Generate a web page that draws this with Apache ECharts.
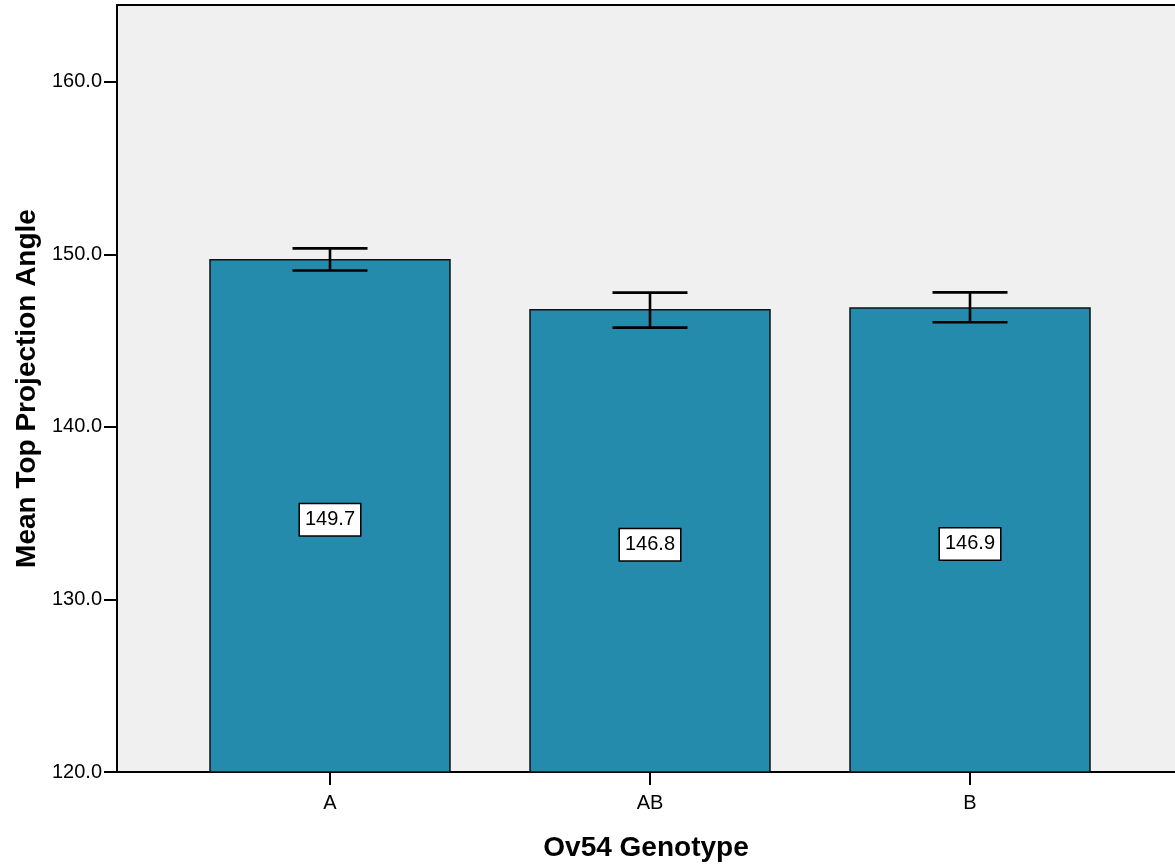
<!DOCTYPE html>
<html>
<head>
<meta charset="utf-8">
<script src="https://cdn.jsdelivr.net/npm/echarts@6/dist/echarts.min.js"></script>
<style>
html,body{margin:0;padding:0;background:#fff;}
#chart{width:1175px;height:867px;}
</style>
</head>
<body>
<div id="chart"></div>
<script>
const categories = ['A', 'AB', 'B'];
const means = [149.7, 146.8, 146.9];
const errLower = [149.07, 145.76, 146.07];
const errUpper = [150.35, 147.79, 147.80];
const yTicks = [120, 130, 140, 150, 160];

const FONT = "'Liberation Sans', Arial, sans-serif";
const chart = echarts.init(document.getElementById('chart'));

const idx = categories.map((c, i) => i);
const X_MIN = -0.6656, X_MAX = 2.6406;

chart.setOption({
  backgroundColor: '#ffffff',
  animation: false,
  grid: {
    left: 117, top: 5, right: 0, bottom: 94,
    show: true, backgroundColor: '#f0f0f0', borderWidth: 0
  },
  xAxis: [{
    type: 'value',
    min: X_MIN, max: X_MAX,
    name: 'Ov54 Genotype',
    nameLocation: 'middle',
    nameGap: 62,
    nameTextStyle: {fontFamily: FONT, fontSize: 28, fontWeight: 'bold', color: '#000'},
    splitLine: {show: false},
    axisLine: {show: true, onZero: false, lineStyle: {color: '#000', width: 2}},
    axisTick: {show: true, length: 13, lineStyle: {color: '#000', width: 2}, customValues: idx},
    axisLabel: {
      fontFamily: FONT, fontSize: 20, color: '#000', margin: 21,
      customValues: idx,
      formatter: v => categories[Math.round(v)]
    }
  }, {
    type: 'value',
    position: 'top',
    min: X_MIN, max: X_MAX,
    splitLine: {show: false},
    axisLine: {show: true, onZero: false, lineStyle: {color: '#000', width: 2}},
    axisTick: {show: false},
    axisLabel: {show: false}
  }],
  yAxis: {
    type: 'value',
    min: 120, max: 164.46,
    name: 'Mean Top Projection Angle',
    nameLocation: 'middle',
    nameGap: 76,
    nameTextStyle: {fontFamily: FONT, fontSize: 28, fontWeight: 'bold', color: '#000'},
    splitLine: {show: false},
    axisLine: {show: true, onZero: false, lineStyle: {color: '#000', width: 2}},
    axisTick: {show: true, length: 13, lineStyle: {color: '#000', width: 2}, customValues: yTicks},
    axisLabel: {
      fontFamily: FONT, fontSize: 20, color: '#000', margin: 15,
      customValues: yTicks,
      formatter: v => v.toFixed(1)
    }
  },
  series: [
    {
      type: 'custom',
      data: means.map((m, i) => [i, m]),
      renderItem: function (params, api) {
        const x = api.value(0), v = api.value(1);
        const p0 = api.coord([x, 120]);
        const p1 = api.coord([x, v]);
        const w = 240;
        return {
          type: 'rect',
          shape: {x: p0[0] - w / 2, y: p1[1], width: w, height: p0[1] - p1[1]},
          style: {fill: '#248bac', stroke: '#111', lineWidth: 1.5}
        };
      },
      z: 2
    },
    {
      type: 'custom',
      data: means.map((m, i) => [i, errLower[i], errUpper[i]]),
      renderItem: function (params, api) {
        const x = api.value(0);
        const lo = api.coord([x, api.value(1)]);
        const hi = api.coord([x, api.value(2)]);
        const cw = 37.5;
        const ls = {stroke: '#000', lineWidth: 2.6};
        return {
          type: 'group',
          children: [
            {type: 'line', shape: {x1: lo[0], y1: lo[1], x2: hi[0], y2: hi[1]}, style: ls},
            {type: 'line', shape: {x1: lo[0] - cw, y1: lo[1], x2: lo[0] + cw, y2: lo[1]}, style: ls},
            {type: 'line', shape: {x1: hi[0] - cw, y1: hi[1], x2: hi[0] + cw, y2: hi[1]}, style: ls}
          ]
        };
      },
      z: 3
    },
    {
      type: 'custom',
      data: means.map((m, i) => [i, m]),
      renderItem: function (params, api) {
        const x = api.value(0), v = api.value(1);
        const p0 = api.coord([x, 120]);
        const p1 = api.coord([x, v]);
        return {
          type: 'text',
          x: p0[0], y: (p0[1] + p1[1]) / 2 + 4,
          style: {
            text: v.toFixed(1),
            font: '20px ' + FONT,
            fill: '#000',
            align: 'center', verticalAlign: 'middle',
            backgroundColor: '#fff', borderColor: '#000', borderWidth: 1.5,
            padding: [6, 5, 5, 5]
          }
        };
      },
      z: 4
    }
  ]
});
</script>
</body>
</html>
